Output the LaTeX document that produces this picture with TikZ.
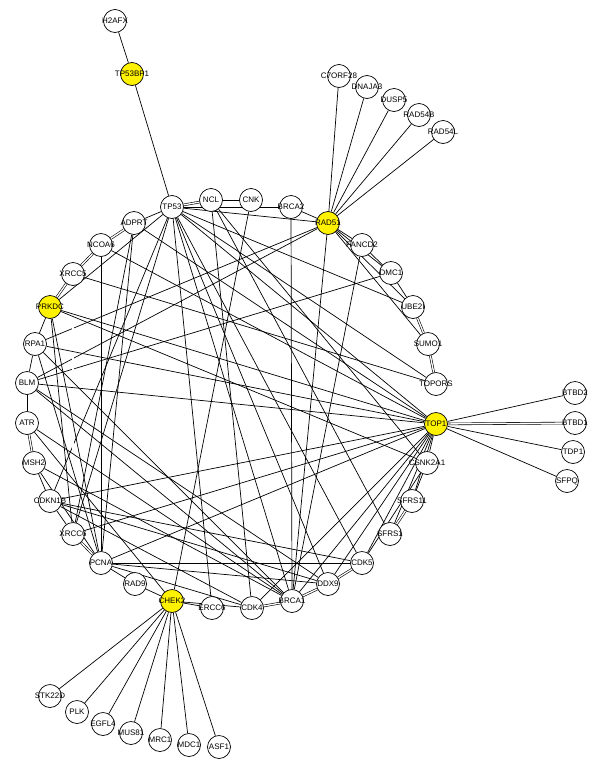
\documentclass[tikz,border=0pt]{standalone}
\usepackage{fontspec}
\setmainfont{Liberation Sans}
\usetikzlibrary{backgrounds}
\begin{document}
\begin{tikzpicture}[x=1pt,y=-1pt,
  gene/.style={circle,draw,fill=white,minimum size=23pt,inner sep=0pt,line width=0.7pt,
    font=\fontsize{8}{9}\selectfont,
    execute at begin node={\hbox to 0pt\bgroup\hss},
    execute at end node={\hss\egroup}},
  hub/.style={gene,fill=yellow},
  link/.style={line width=0.7pt},
  multi/.style={line width=0.6pt,double,double distance=1.3pt}]
\useasboundingbox (0,0) rectangle (609,766);
% ring
\node[gene] (H2AFX) at (115,21) {H2AFX};
\node[hub] (TP53BP1) at (132,74) {TP53BP1};
\node[gene] (TP53) at (172,207) {TP53};
\node[gene] (NCL) at (211,200) {NCL};
\node[gene] (CNK) at (251,200) {CNK};
\node[gene] (BRCA2) at (291,207) {BRCA2};
\node[hub] (RAD51) at (328,223) {RAD51};
\node[gene] (FANCD2) at (362,245) {FANCD2};
\node[gene] (DMC1) at (391,273) {DMC1};
\node[gene] (UBE2I) at (413,307) {UBE2I};
\node[gene] (SUMO1) at (428,344) {SUMO1};
\node[gene] (TOPORS) at (436,384) {TOPORS};
\node[hub] (TOP1) at (436,424) {TOP1};
\node[gene] (CSNK2A1) at (427,463) {CSNK2A1};
\node[gene] (SFRS11) at (412,501) {SFRS11};
\node[gene] (SFRS1) at (390,534) {SFRS1};
\node[gene] (CDK5) at (362,563) {CDK5};
\node[gene] (DDX9) at (328,584) {DDX9};
\node[gene] (BRCA1) at (292,601) {BRCA1};
\node[gene] (CDK4) at (252,608) {CDK4};
\node[gene] (ERCC6) at (212,608) {ERCC6};
\node[hub] (CHEK2) at (172,601) {CHEK2};
\node[gene] (RAD9) at (135,584) {RAD9};
\node[gene] (PCNA) at (101,563) {PCNA};
\node[gene] (XRCC6) at (73,534) {XRCC6};
\node[gene] (CDKN1B) at (50,501) {CDKN1B};
\node[gene] (MSH2) at (34,463) {MSH2};
\node[gene] (ATR) at (27,423) {ATR};
\node[gene] (BLM) at (27,383) {BLM};
\node[gene] (RPA1) at (35,344) {RPA1};
\node[hub] (PRKDC) at (50,307) {PRKDC};
\node[gene] (XRCC5) at (73,274) {XRCC5};
\node[gene] (NCOA6) at (101,245) {NCOA6};
\node[gene] (ADPRT) at (134,223) {ADPRT};
% RAD51 spokes
\node[gene] (C7ORF28) at (339,76) {C7ORF28};
\node[gene] (DNAJA3) at (367,87) {DNAJA3};
\node[gene] (DUSP5) at (394,100) {DUSP5};
\node[gene] (RAD54B) at (419,115) {RAD54B};
\node[gene] (RAD54L) at (443,132) {RAD54L};
% TOP1 spokes
\node[gene] (BTBD2) at (575,393) {BTBD2};
\node[gene] (BTBD1) at (575,423) {BTBD1};
\node[gene] (TDP1) at (573,452) {TDP1};
\node[gene] (SFPQ) at (567,481) {SFPQ};
% CHEK2 spokes
\node[gene] (STK22D) at (50,696) {STK22D};
\node[gene] (PLK) at (77,712) {PLK};
\node[gene] (EGFL4) at (103,724) {EGFL4};
\node[gene] (MUS81) at (131,733) {MUS81};
\node[gene] (MRC1) at (160,740) {MRC1};
\node[gene] (MDC1) at (189,745) {MDC1};
\node[gene] (ASF1) at (219,747) {ASF1};
\begin{pgfonlayer}{background}
% spokes
\draw[link] (H2AFX) -- (TP53BP1);
\draw[link] (TP53BP1) -- (TP53);
\foreach \n in {C7ORF28,DNAJA3,DUSP5,RAD54B,RAD54L} \draw[link] (RAD51) -- (\n);
\foreach \n in {BTBD2,TDP1,SFPQ} \draw[link] (TOP1) -- (\n);
\draw[multi] (TOP1) -- (BTBD1);
\foreach \n in {STK22D,PLK,EGFL4,MUS81,MRC1,MDC1,ASF1} \draw[link] (CHEK2) -- (\n);
% ring neighbours
\draw[link] (ADPRT) -- (TP53);
\draw[multi] (ADPRT) -- (NCOA6);
\draw[multi] (NCOA6) -- (XRCC5);
\draw[multi] (XRCC5) -- (PRKDC);
\draw[link] (PRKDC) -- (RPA1);
\draw[link] (RPA1) -- (BLM);
\draw[link] (BLM) -- (ATR);
\draw[multi] (ATR) -- (MSH2);
\draw[link] (MSH2) -- (CDKN1B);
\draw[link] (CDKN1B) -- (XRCC6);
\draw[multi] (XRCC6) -- (PCNA);
\draw[link] (PCNA) -- (RAD9);
\draw[link] (RAD9) -- (CHEK2);
\draw[link] (CHEK2) -- (ERCC6);
\draw[link] (CHEK2) -- (CDK4);
\draw[multi] (CDK4) -- (BRCA1);
\draw[multi] (BRCA1) -- (DDX9);
\draw[multi] (DDX9) -- (CDK5);
\draw[multi] (SFRS1) -- (SFRS11);
\draw[link] (SFRS11) -- (CSNK2A1);
\draw[link] (CSNK2A1) -- (TOP1);
\draw[multi] (TOP1) -- (TOPORS);
\draw[multi] (TOPORS) -- (SUMO1);
\draw[multi] (SUMO1) -- (UBE2I);
\draw[link] (UBE2I) -- (DMC1);
\draw[link] (DMC1) -- (FANCD2);
\draw[link] (FANCD2) -- (RAD51);
\draw[link] (RAD51) -- (BRCA2);
\draw[multi] (TP53) -- (NCL);
\draw[link] (NCL) -- (CNK);
% long links
\foreach \n in {BRCA2,RAD51,UBE2I,TOPORS,TOP1,CDK5,BRCA1,ERCC6,CDKN1B,XRCC6,DDX9} \draw[link] (TP53) -- (\n);
\draw[link] (NCL) -- (SFRS1);
\draw[link] (NCL) -- (CSNK2A1);
\draw[link] (NCL) -- (CDK4);
\draw[link] (CNK) -- (CHEK2);
\draw[link] (BRCA2) -- (BRCA1);
\foreach \n in {BRCA1,RPA1,BLM,DMC1,UBE2I,SUMO1} \draw[link] (RAD51) -- (\n);
\draw[link] (FANCD2) -- (BRCA1);
\draw[link] (DMC1) -- (BLM);
\draw[link] (ADPRT) -- (XRCC6);
\draw[link] (ADPRT) -- (PCNA);
\draw[link] (ADPRT) -- (TOP1);
\draw[link] (NCOA6) -- (PCNA);
\draw[link] (NCOA6) -- (TOP1);
\draw[multi] (XRCC5) -- (XRCC6);
\draw[link] (XRCC5) -- (TOPORS);
\foreach \n in {TOP1,CSNK2A1,XRCC6,PCNA,TP53} \draw[link] (PRKDC) -- (\n);
\foreach \n in {TOP1,PCNA,BRCA1} \draw[link] (RPA1) -- (\n);
\foreach \n in {TOP1,DDX9,BRCA1} \draw[link] (BLM) -- (\n);
\draw[link] (ATR) -- (CHEK2);
\draw[link] (ATR) -- (BRCA1);
\draw[link] (MSH2) -- (BRCA1);
\draw[link] (MSH2) -- (PCNA);
\foreach \n in {TOP1,CDK5,CDK4,DDX9} \draw[link] (CDKN1B) -- (\n);
\draw[link] (XRCC6) -- (TOP1);
\foreach \n in {CDK5,DDX9,TOP1,CDK4} \draw[link] (PCNA) -- (\n);
\foreach \n in {SFRS1,SFRS11,CDK5,DDX9,BRCA1,CDK4} \draw[link] (TOP1) -- (\n);
\draw[link] (CDK5) -- (CSNK2A1);
\end{pgfonlayer}
\end{tikzpicture}
\end{document}
